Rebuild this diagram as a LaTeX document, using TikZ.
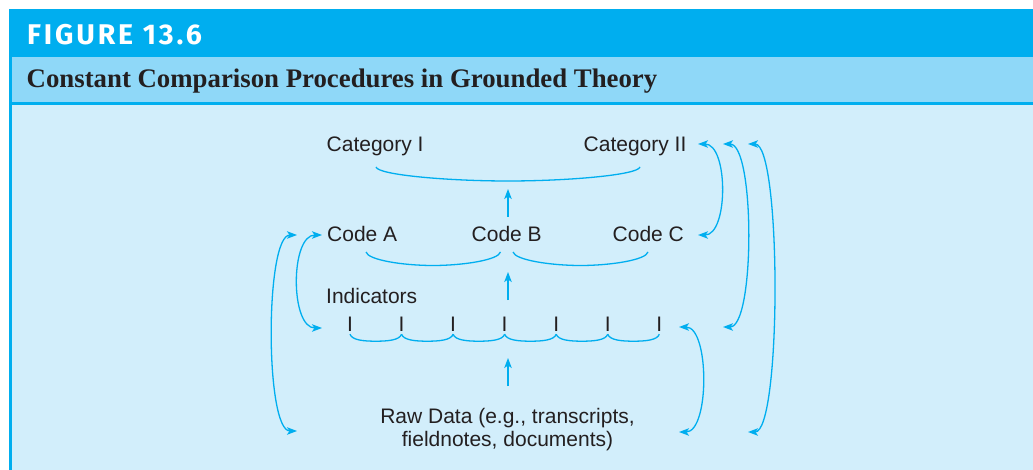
\documentclass[tikz,border=0pt]{standalone}
\usepackage{fontspec}
\setmainfont{Liberation Sans}
\newfontfamily\headfont[LetterSpace=10]{Fira Sans}
\newfontfamily\capfont{Liberation Serif}
\usetikzlibrary{arrows.meta,calc}
\definecolor{figblue}{RGB}{0,174,239}
\definecolor{bandblue}{RGB}{143,216,248}
\definecolor{bodyblue}{RGB}{210,238,251}
\definecolor{ink}{RGB}{35,31,32}
\begin{document}
\begin{tikzpicture}[x=1pt,y=-1pt,
  lbl/.style={font=\fontsize{21}{23.4}\selectfont, text=ink, inner sep=0pt, anchor=base west},
  tickmark/.style={font=\fontsize{21}{23.4}\selectfont, text=ink, inner sep=0pt, anchor=base},
  link/.style={draw=figblue, line width=1.3pt},
  tip/.tip={Stealth[length=10pt,width=7.5pt,inset=2.5pt]},
  up/.style={link, -tip},
  rloop/.style={link, tip-tip, out=0, in=0, looseness=#1},
  lloop/.style={link, tip-tip, out=180, in=180, looseness=#1}
]
\useasboundingbox (0,0) rectangle (1033,470);

% frame: header bar, title band, body
\fill[white] (0,0) rectangle (1033,470);
\fill[figblue] (9,9) rectangle (1033,57);
\fill[bandblue] (9,57) rectangle (1033,102);
\fill[figblue] (9,102) rectangle (1033,105);
\fill[bodyblue] (9,105) rectangle (1033,470);
\fill[figblue] (9,57) rectangle (12,470);

\node[anchor=base west, inner sep=0pt, text=white,
      font=\headfont\bfseries\fontsize{28.5}{30}\selectfont] (fig) at (27,44.3) {FIGURE 13.6};
\node[anchor=base west, inner sep=0pt, text=ink,
      font=\capfont\bfseries\fontsize{26.8}{30}\selectfont] (sub) at (26.5,87.5)
      {Constant Comparison Procedures in Grounded Theory};

% levels of the diagram
\node[lbl] (cat1) at (326.5,152) {Category I};
\node[lbl] (cat2) at (583.5,152) {Category II};
\node[lbl] (codeA) at (327,242) {Code A};
\node[lbl] (codeB) at (471.5,242) {Code B};
\node[lbl] (codeC) at (612.5,242) {Code C};
\node[lbl] (ind) at (326,303) {Indicators};
\foreach \i in {0,...,6}
  \node[tickmark] (t\i) at ({350+51.55*\i},331) {I};
\node[font=\fontsize{21}{23.4}\selectfont, text=ink, align=center, anchor=north, inner sep=0pt]
  (raw) at (507.5,407.7) {Raw Data (e.g., transcripts,\\fieldnotes, documents)};

% braces grouping each level
\coordinate (cbL) at (376,167);
\coordinate (cbM) at (508,181);
\coordinate (cbR) at (640,167);
\draw[link] (cbL) .. controls +(2,8) and +(-60,0) .. (cbM) .. controls +(60,0) and +(-2,8) .. (cbR);

\coordinate (abL) at (366,252);
\coordinate (abM) at (433,265.5);
\coordinate (abR) at (500.5,252);
\draw[link] (abL) .. controls +(2,8) and +(-30,0) .. (abM) .. controls +(30,0) and +(-2,8) .. (abR);
\coordinate (bcL) at (513,252);
\coordinate (bcM) at (580.5,265.5);
\coordinate (bcR) at (648,252);
\draw[link] (bcL) .. controls +(2,8) and +(-30,0) .. (bcM) .. controls +(30,0) and +(-2,8) .. (bcR);

\foreach \i [evaluate=\i as \j using int(\i+1)] in {0,...,5}
  \draw[link] ([yshift=-3pt]t\i.south) .. controls +(2,6) and +(-12,0) ..
    ($([yshift=-10pt]t\i.south)!0.5!([yshift=-10pt]t\j.south)$) .. controls +(12,0) and +(-2,6) ..
    ([yshift=-3pt]t\j.south);

% upward arrows between levels
\coordinate (u1s) at (508,217); \coordinate (u1e) at (508,189);
\coordinate (u2s) at (508,300); \coordinate (u2e) at (508,272);
\coordinate (u3s) at (508,386); \coordinate (u3e) at (508,358);
\draw[up] (u1s) -- (u1e);
\draw[up] (u2s) -- (u2e);
\draw[up] (u3s) -- (u3e);

% comparison loops on the right
\coordinate (r1a) at (698,144); \coordinate (r1b) at (698,235);
\coordinate (r2a) at (723,144); \coordinate (r2b) at (723,327);
\coordinate (r3a) at (748,144); \coordinate (r3b) at (748,432);
\coordinate (r4a) at (679,327); \coordinate (r4b) at (679,432);
\draw[rloop=0.86] (r1a) to (r1b);
\draw[rloop=0.45] (r2a) to (r2b);
\draw[rloop=0.30] (r3a) to (r3b);
\draw[rloop=0.75] (r4a) to (r4b);

% comparison loops on the left
\coordinate (l1a) at (322,235); \coordinate (l1b) at (322,328);
\coordinate (l2a) at (297,235); \coordinate (l2b) at (297,431);
\draw[lloop=0.88] (l1a) to (l1b);
\draw[lloop=0.42] (l2a) to (l2b);
\end{tikzpicture}
\end{document}
